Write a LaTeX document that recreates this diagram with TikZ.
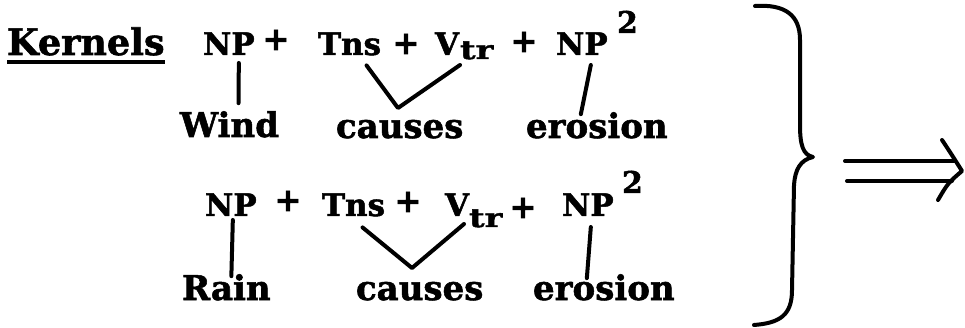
\documentclass[tikz,border=0pt]{standalone}
\usepackage{fontspec}
\setmainfont{DejaVu Serif}[BoldFeatures={FakeBold=1.6}]
\usetikzlibrary{calc}
\begin{document}
\begin{tikzpicture}[x=1pt,y=-1pt,
  tok/.style={inner sep=0pt, outer sep=0pt, anchor=base west, font=\bfseries\fontsize{31}{31}\selectfont},
  word/.style={tok, font=\bfseries\fontsize{34}{34}\selectfont},
  sub/.style={tok, font=\bfseries\fontsize{26}{26}\selectfont\addfontfeature{FakeStretch=1.3}},
  sup/.style={tok, font=\bfseries\fontsize{30}{30}\selectfont},
  plus/.style={inner sep=0pt, outer sep=0pt, anchor=center, font=\bfseries\fontsize{32}{32}\selectfont},
  conn/.style={line width=4pt, line cap=round, line join=round}]
\useasboundingbox[fill=white] (0,0) rectangle (965,328);
% heading
\node[tok, font=\bfseries\fontsize{36.5}{36.5}\selectfont] (kern) at (7,55) {Kernels};
\draw[line width=3.5pt] ($(kern.base west)+(0,7)$) -- ($(kern.base east)+(0,7)$);
% row 1
\node[tok] (np1) at (203,55) {NP};
\node[plus] (p1a) at (276,40) {+};
\node[tok] (tns1) at (318,55) {Tns};
\node[plus] (p1b) at (406,44) {+};
\node[tok] (v1) at (435,55) {V};
\node[sub] (tr1) at (460,59) {tr};
\node[plus] (p1c) at (524,42) {+};
\node[tok] (npb1) at (556,55) {NP};
\node[sup] (sq1) at (617,33) {2};
\node[word] (wind) at (180,137) {Wind};
\node[word] (cause1) at (336,138) {causes};
\node[word] (eros1) at (526,138) {erosion};
% row 2
\node[tok] (np2) at (205,216) {NP};
\node[plus] (p2a) at (288,201) {+};
\node[tok] (tns2) at (322,216) {Tns};
\node[plus] (p2b) at (408,202) {+};
\node[tok] (v2) at (445,216) {V};
\node[sub] (tr2) at (469,227) {tr};
\node[plus] (p2c) at (523,208) {+};
\node[tok] (npb2) at (562,216) {NP};
\node[sup] (sq2) at (622,193) {2};
\node[word] (rain) at (182,300) {Rain};
\node[word] (cause2) at (356,300) {causes};
\node[word] (eros2) at (533,300) {erosion};
% vertices of the V connectors
\coordinate (vx1) at (398,108);
\coordinate (vx2) at (412,268);
% connectors row 1
\draw[conn] ($(np1.south)+(10,8)$) -- ($(wind.north)+(9,-8)$);
\draw[conn] ($(tns1.south)+(17,10)$) -- (vx1) -- ($(v1.south)+(13,10)$);
\draw[conn] ($(npb1.south)+(9,10)$) -- ($(eros1.north)+(-16,2)$);
% connectors row 2
\draw[conn] ($(np2.south)+(2,4)$) -- ($(rain.north)+(5,2)$);
\draw[conn] ($(tns2.south)+(9,11)$) -- (vx2) -- ($(v2.south)+(7,8)$);
\draw[conn] ($(npb2.south)+(3,11)$) -- ($(eros2.north)+(-17,4)$);
% brace
\coordinate (btip) at (813,157);
\draw[conn] (755,6) .. controls (785,4) and (800,15) .. (800,40) -- (800,125)
  .. controls (800,145) and (803,155) .. (btip)
  .. controls (800,160) and (795,170) .. (794,185) -- (792,290)
  .. controls (792,315) and (780,323) .. (754,325);
% implication arrow
\coordinate (a1s) at (845,161);
\coordinate (a1e) at (955,161);
\coordinate (a2s) at (847,181);
\coordinate (a2e) at (952,181);
\coordinate (ahtop) at (942,140);
\coordinate (ahtip) at (962,171);
\coordinate (ahbot) at (938,200);
\draw[conn] (a1s) -- (a1e);
\draw[conn] (a2s) -- (a2e);
\draw[conn] (ahtop) .. controls (950,152) .. (ahtip) .. controls (948,183) .. (ahbot);
\end{tikzpicture}
\end{document}
